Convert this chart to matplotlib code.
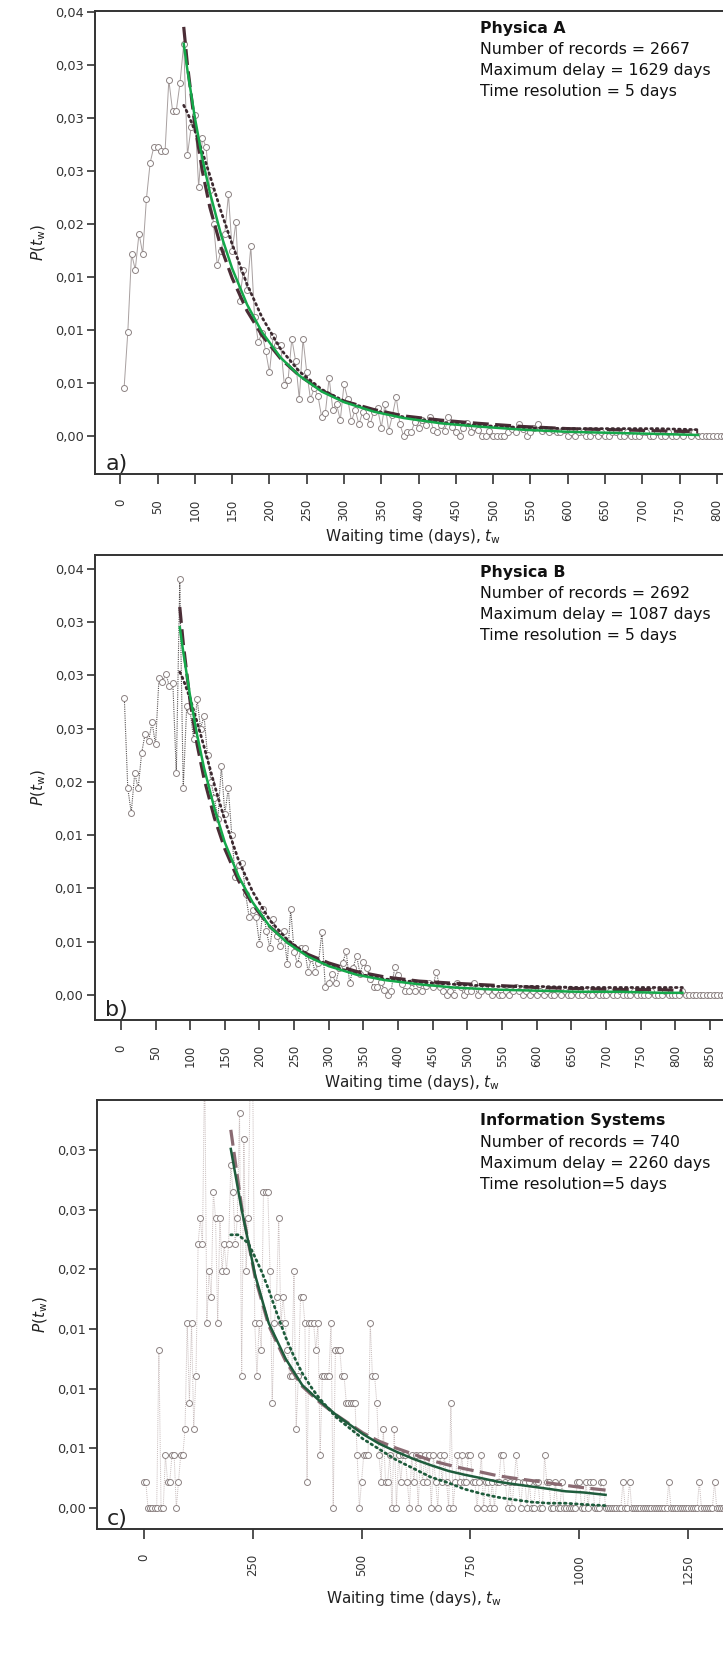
import numpy as np
import matplotlib
matplotlib.use('Agg')
import matplotlib.pyplot as plt

plt.rcParams['font.family'] = ['DejaVu Sans']
plt.rcParams['mathtext.fontset'] = 'dejavusans'

# ---------------- Panel a: Physica A ----------------
p_a = [0.0045, 0.0098, 0.0172, 0.0157, 0.0191, 0.0172, 0.0224, 0.0258, 0.0273, 0.0273, 0.0269, 0.0269, 0.0336, 0.0307, 0.0307, 0.0333, 0.0370,
       0.0265, 0.0292, 0.0303, 0.0235, 0.0281, 0.0273, 0.0232, 0.0200, 0.0161, 0.0175, 0.0191, 0.0228, 0.0175, 0.0202, 0.0127,
       0.0157, 0.0138, 0.0179, 0.0112, 0.0089, 0.0097, 0.0080, 0.0060, 0.0094, 0.0086, 0.0086, 0.0048, 0.0053, 0.0092, 0.0071, 0.0035, 0.0092,
       0.0060, 0.0035, 0.0045, 0.0038, 0.0018, 0.0022, 0.0055, 0.0025, 0.0030, 0.0015, 0.0049, 0.0035, 0.0014, 0.0025, 0.0011, 0.0023, 0.0019,
       0.0011, 0.0023, 0.0026, 0.0008, 0.0030, 0.0005, 0.0020, 0.0037, 0.0011, 0.0000, 0.0004, 0.0004, 0.0013, 0.0008, 0.0015, 0.0010, 0.0018,
       0.0006, 0.0004, 0.0010, 0.0005, 0.0018, 0.0009, 0.0004, 0.0000, 0.0008, 0.0012, 0.0004, 0.0009, 0.0006, 0.0000, 0.0000, 0.0005, 0.0000,
       0.0000, 0.0000, 0.0000, 0.0004, 0.0007, 0.0004, 0.0011, 0.0007, 0.0000, 0.0004, 0.0008, 0.0011, 0.0005, 0.0007, 0.0004, 0.0006, 0.0004,
       0.0004, 0.0006, 0.0000, 0.0004, 0.0000, 0.0004, 0.0004, 0.0000, 0.0000, 0.0004, 0.0000, 0.0004, 0.0000, 0.0000, 0.0004, 0.0004, 0.0000,
       0.0000, 0.0004, 0.0000, 0.0000, 0.0000, 0.0004, 0.0004, 0.0000, 0.0000, 0.0004, 0.0000, 0.0000, 0.0004, 0.0000, 0.0000, 0.0004, 0.0000,
       0.0004, 0.0000, 0.0004, 0.0000, 0.0000, 0.0000, 0.0000, 0.0000, 0.0000, 0.0000, 0.0000, 0.0000, 0.0000, 0.0000, 0.0000, 0.0000, 0.0000]
t_a = 5 + 5 * np.arange(len(p_a))  # 5-day bins

fit_t_a = [85, 90, 100, 110, 120, 135, 150, 170, 190, 215, 240, 270, 300, 340, 380, 430, 480, 540, 600, 660, 720, 775]
fit_green_a = [0.0370, 0.0345, 0.0300, 0.0262, 0.0230, 0.0190, 0.0158, 0.0124, 0.0098, 0.0074, 0.0057, 0.0042, 0.0032, 0.0023, 0.0017,
               0.0012, 0.0009, 0.0006, 0.0004, 0.0003, 0.0002, 0.0001]
fit_dash_a = [0.0386, 0.0350, 0.0293, 0.0250, 0.0216, 0.0178, 0.0149, 0.0118, 0.0095, 0.0073, 0.0057, 0.0043, 0.0033, 0.0025, 0.0019,
              0.0015, 0.0012, 0.0009, 0.0007, 0.0006, 0.0005, 0.0004]
fit_dot_a = [0.0312, 0.0305, 0.0288, 0.0268, 0.0246, 0.0212, 0.0181, 0.0143, 0.0112, 0.0082, 0.0061, 0.0044, 0.0033, 0.0024, 0.0018,
             0.0013, 0.0010, 0.0008, 0.0007, 0.0007, 0.0007, 0.0006]

# ---------------- Panel b: Physica B ----------------
p_b = [0.0279, 0.0194, 0.0171, 0.0208, 0.0194, 0.0227, 0.0245, 0.0238, 0.0256, 0.0235, 0.0297, 0.0294, 0.0301, 0.0290, 0.0293, 0.0208, 0.0390,
       0.0194, 0.0271, 0.0266, 0.0240, 0.0278, 0.0250, 0.0262, 0.0225, 0.0200, 0.0185, 0.0165, 0.0215, 0.0170, 0.0194, 0.0150, 0.0111, 0.0122,
       0.0124, 0.0095, 0.0073, 0.0080, 0.0073, 0.0048, 0.0081, 0.0060, 0.0044, 0.0071, 0.0055, 0.0046, 0.0060, 0.0029, 0.0081, 0.0040, 0.0029,
       0.0044, 0.0044, 0.0022, 0.0035, 0.0022, 0.0030, 0.0059, 0.0007, 0.0011, 0.0020, 0.0011, 0.0025, 0.0030, 0.0041, 0.0011, 0.0025, 0.0037,
       0.0020, 0.0031, 0.0025, 0.0015, 0.0007, 0.0007, 0.0012, 0.0005, 0.0000, 0.0004, 0.0026, 0.0019, 0.0010, 0.0004, 0.0004, 0.0012, 0.0004,
       0.0010, 0.0004, 0.0008, 0.0011, 0.0007, 0.0022, 0.0007, 0.0004, 0.0000, 0.0004, 0.0000, 0.0011, 0.0007, 0.0000, 0.0004, 0.0004, 0.0011,
       0.0000, 0.0004, 0.0007, 0.0004, 0.0000, 0.0004, 0.0000, 0.0000, 0.0004, 0.0000, 0.0004, 0.0007, 0.0004, 0.0000, 0.0004, 0.0000, 0.0004,
       0.0000, 0.0004, 0.0000, 0.0004, 0.0000, 0.0000, 0.0004, 0.0000, 0.0004, 0.0000, 0.0000, 0.0004, 0.0000, 0.0000, 0.0004, 0.0000, 0.0000,
       0.0004, 0.0000, 0.0000, 0.0000, 0.0004, 0.0000, 0.0000, 0.0004, 0.0000, 0.0000, 0.0000, 0.0004, 0.0000, 0.0000, 0.0000, 0.0000, 0.0004,
       0.0000, 0.0000, 0.0000, 0.0004, 0.0000, 0.0000, 0.0000, 0.0000, 0.0004, 0.0000, 0.0000, 0.0000, 0.0000, 0.0000, 0.0000, 0.0000, 0.0000,
       0.0000, 0.0000, 0.0000, 0.0000, 0.0000, 0.0000]
t_b = 5 + 5 * np.arange(len(p_b))

fit_t_b = [85, 90, 100, 110, 120, 135, 150, 170, 190, 215, 240, 270, 300, 340, 380, 430, 480, 540, 600, 660, 720, 780, 810]
fit_green_b = [0.0345, 0.0322, 0.0280, 0.0244, 0.0213, 0.0175, 0.0143, 0.0111, 0.0087, 0.0064, 0.0049, 0.0036, 0.0027, 0.0019, 0.0014,
               0.0010, 0.0007, 0.0005, 0.0004, 0.0003, 0.0003, 0.0002, 0.0002]
fit_dash_b = [0.0364, 0.0330, 0.0275, 0.0235, 0.0203, 0.0166, 0.0137, 0.0107, 0.0085, 0.0064, 0.0050, 0.0038, 0.0030, 0.0022, 0.0017,
              0.0013, 0.0011, 0.0009, 0.0007, 0.0006, 0.0005, 0.0005, 0.0004]
fit_dot_b = [0.0303, 0.0296, 0.0278, 0.0256, 0.0233, 0.0197, 0.0164, 0.0126, 0.0097, 0.0070, 0.0052, 0.0037, 0.0028, 0.0020, 0.0015,
             0.0012, 0.0010, 0.0008, 0.0008, 0.0007, 0.0007, 0.0007, 0.0007]

# ---------------- Panel c: Information Systems ----------------
counts_c = [1, 1, 0, 0, 0, 0, 0, 6, 0, 0,
            2, 1, 1, 2, 2, 0, 1, 2, 2, 3,
            7, 4, 7, 3, 5, 10, 11, 10, 17, 7,
            9, 8, 12, 11, 7, 11, 9, 10, 9, 10,
            13, 12, 10, 11, 15, 5, 14, 9, 11, 17,
            17, 7, 5, 7, 6, 12, 12, 12, 9, 4,
            7, 8, 11, 7, 8, 7, 6, 5, 5, 9,
            3, 5, 8, 8, 7, 1, 7, 7, 7, 6,
            7, 2, 5, 5, 5, 5, 7, 0, 6, 6,
            6, 5, 5, 4, 4, 4, 4, 4, 2, 0,
            1, 2, 2, 2, 7, 5, 5, 4, 2, 1,
            3, 1, 1, 2, 0, 3, 0, 2, 1, 2,
            2, 1, 0, 2, 1, 2, 0, 2, 1, 2,
            1, 2, 0, 2, 1, 0, 2, 1, 2, 1,
            0, 4, 0, 1, 2, 1, 2, 1, 1, 2,
            2, 1, 1, 0, 1, 2, 0, 1, 1, 0,
            1, 0, 1, 1, 2, 2, 1, 0, 1, 0,
            1, 2, 1, 0, 1, 1, 0, 1, 0, 0,
            1, 1, 0, 0, 2, 1, 1, 0, 0, 1,
            0, 0, 1, 0, 0, 0, 0, 0, 0, 1,
            1, 0, 0, 1, 0, 1, 1, 0, 0, 0,
            1, 1, 0, 0, 0, 0, 0, 0, 0, 0,
            1, 0, 0, 1, 0, 0, 0, 0, 0, 0,
            0, 0, 0, 0, 0, 0, 0, 0, 0, 0,
            0, 1, 0, 0, 0, 0, 0, 0, 0, 0,
            0, 0, 0, 0, 0, 1, 0, 0, 0, 0,
            0, 0, 1, 0, 0, 0, 0, 0, 0, 0]
t_c = 5 * np.arange(len(counts_c))
bin_prob_c = 0.00221  # probability of one record in a bin

fit_t_c = [200, 225, 256, 287, 326, 364, 403, 442, 503, 540, 581, 620, 658, 700, 735, 775, 813, 850, 890, 930, 968, 1010, 1060]
fit_solid_c = [0.0301, 0.0250, 0.0195, 0.0155, 0.0125, 0.0103, 0.0090, 0.0078, 0.0062, 0.0054, 0.0047, 0.0041, 0.0036, 0.0031,
               0.0028, 0.0025, 0.0022, 0.0020, 0.0018, 0.0016, 0.0014, 0.0013, 0.0011]
fit_dash_c = [0.0317, 0.0252, 0.0193, 0.0153, 0.0123, 0.0102, 0.0089, 0.0078, 0.0063, 0.0056, 0.0050, 0.0045, 0.0040, 0.0036,
              0.0033, 0.0030, 0.0027, 0.0025, 0.0023, 0.0021, 0.0019, 0.0017, 0.0015]
fit_t_dot_c = [200, 217, 240, 256, 271, 287, 302, 326, 345, 364, 385, 403, 442, 503, 542, 581, 620, 658, 700, 735, 775, 813, 850,
               890, 930, 968, 1010, 1060]
fit_dot_c = [0.0229, 0.0229, 0.0222, 0.0210, 0.0198, 0.0183, 0.0167, 0.0143, 0.0127, 0.0113, 0.0101, 0.0092, 0.0076, 0.0058, 0.0049,
             0.0040, 0.0033, 0.0026, 0.0021, 0.0016, 0.0012, 0.0009, 0.0007, 0.0005, 0.0004, 0.0004, 0.0003, 0.0002]

y_ticks_ab = [0, 0.005, 0.01, 0.015, 0.02, 0.025, 0.03, 0.035, 0.04]
y_labels_ab = ['0,00', '0,01', '0,01', '0,01', '0,02', '0,03', '0,03', '0,03', '0,04']
y_ticks_c = [0, 0.005, 0.01, 0.015, 0.02, 0.025, 0.03]
y_labels_c = ['0,00', '0,01', '0,01', '0,01', '0,02', '0,03', '0,03']

info_a = ['Physica A', 'Number of records = 2667', 'Maximum delay = 1629 days', 'Time resolution = 5 days']
info_b = ['Physica B', 'Number of records = 2692', 'Maximum delay = 1087 days', 'Time resolution = 5 days']
info_c = ['Information Systems', 'Number of records = 740', 'Maximum delay = 2260 days', 'Time resolution=5 days']

W, H = 723, 1657
fig = plt.figure(figsize=(W / 100, H / 100), dpi=100)


def px_axes(left, top, bottom):
    # axes from pixel positions, right edge runs off the figure
    return fig.add_axes([left / W, 1 - bottom / H, 1.0 - left / W + 0.01, (bottom - top) / H])


def style(ax, xticks, yticks, ylabels, letter, info, top_px):
    ax.set_xticks(xticks)
    ax.set_xticklabels([str(v) for v in xticks], rotation=90)
    ax.set_yticks(yticks)
    ax.set_yticklabels(ylabels)
    ax.tick_params(axis='x', direction='out', length=7, width=1.2, pad=11, labelsize=8.5, colors='#333333')
    ax.tick_params(axis='y', direction='out', length=6, width=1.2, pad=2, labelsize=9.3, colors='#333333')
    for s in ['left', 'top', 'bottom']:
        ax.spines[s].set_color('#333333')
        ax.spines[s].set_linewidth(1.4)
    ax.spines['right'].set_visible(False)
    ax.set_xlabel(r'Waiting time (days), $t_{\rm w}$', fontsize=11, color='#222222', labelpad=4)
    ax.set_ylabel(r'$P(t_{\rm w})$', fontsize=11, color='#222222', labelpad=5)
    ax.text(0.016, 0.0, letter, transform=ax.transAxes, fontsize=16, color='#222222', va='bottom', ha='left')
    for i, line in enumerate(info):
        fig.text(480 / W, 1 - (top_px + 17 + 21.3 * i) / H, line, fontsize=11.3, color='#111111',
                 va='center', ha='left', fontweight='bold' if i == 0 else 'normal')


marker_kw = dict(marker='o', markersize=4.3, markerfacecolor='white', markeredgecolor='#8c8282', markeredgewidth=0.7)

# a)
ax1 = px_axes(95, 11, 474)
ax1.plot(t_a, p_a, color='#a8a0a0', linewidth=0.7, **marker_kw)
ax1.plot(fit_t_a, fit_dash_a, color='#4b2d36', linewidth=2.3, linestyle=(0, (5, 2)))
ax1.plot(fit_t_a, fit_dot_a, color='#3d2a30', linewidth=2.0, linestyle=(0, (0.6, 1.4)), dash_capstyle='round')
ax1.plot(fit_t_a, fit_green_a, color='#14a84a', linewidth=1.8)
ax1.set_xlim(-34, 818)
ax1.set_ylim(-0.00358, 0.0401)
style(ax1, list(range(0, 801, 50)), y_ticks_ab, y_labels_ab, 'a)', info_a, 11)

# b)
ax2 = px_axes(94.5, 555, 1020)
ax2.plot(t_b, p_b, color='#555050', linewidth=0.8, linestyle=(0, (1, 1)), **marker_kw)
ax2.plot(fit_t_b, fit_dash_b, color='#4b2d36', linewidth=2.3, linestyle=(0, (5, 2)))
ax2.plot(fit_t_b, fit_dot_b, color='#3d2a30', linewidth=2.0, linestyle=(0, (0.6, 1.4)), dash_capstyle='round')
ax2.plot(fit_t_b, fit_green_b, color='#14a84a', linewidth=1.8)
ax2.set_xlim(-38, 879)
ax2.set_ylim(-0.00235, 0.04128)
style(ax2, list(range(0, 851, 50)), y_ticks_ab, y_labels_ab, 'b)', info_b, 555)

# c)
ax3 = px_axes(97, 1100, 1529)
p_c = np.array(counts_c) * bin_prob_c
ax3.plot(t_c, p_c, color='#c8bcbc', linewidth=0.7, linestyle=(0, (1, 1)), **marker_kw)
ax3.plot(fit_t_c, fit_dash_c, color='#8a6a72', linewidth=2.3, linestyle=(0, (5, 2)))
ax3.plot(fit_t_dot_c, fit_dot_c, color='#1e5c3c', linewidth=2.0, linestyle=(0, (0.6, 1.4)), dash_capstyle='round')
ax3.plot(fit_t_c, fit_solid_c, color='#1e5c3c', linewidth=1.8)
ax3.set_xlim(-107, 1346)
ax3.set_ylim(-0.00176, 0.0342)
style(ax3, [0, 250, 500, 750, 1000, 1250], y_ticks_c, y_labels_c, 'c)', info_c, 1104)

fig.savefig('out.png', dpi=100)
